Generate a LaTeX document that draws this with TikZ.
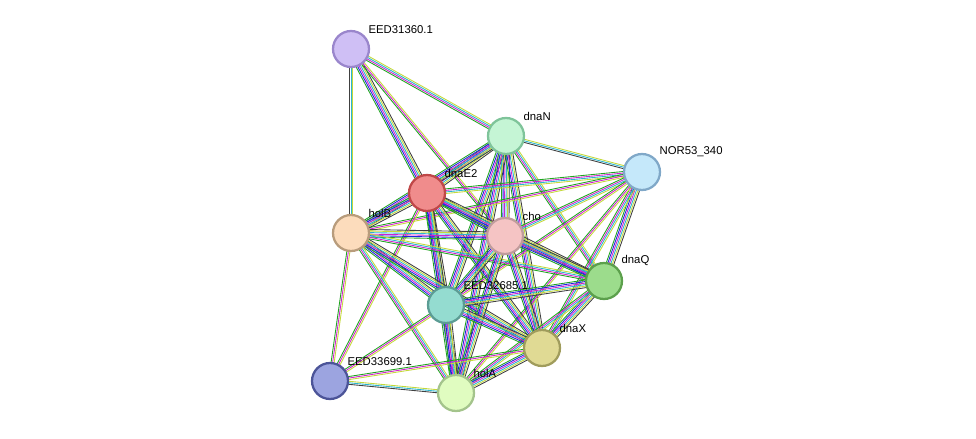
\documentclass[tikz,border=0pt]{standalone}
\usepackage{fontspec}
\setmainfont{Liberation Sans}
\usetikzlibrary{calc}
\definecolor{ctxt}{HTML}{C4D93A}
\definecolor{cknw}{HTML}{1FA31F}
\definecolor{cdbs}{HTML}{2AB5CF}
\definecolor{cexp}{HTML}{D020D0}
\definecolor{cblu}{HTML}{2020E0}
\definecolor{cblk}{HTML}{404040}
\newcommand\edg[4]{%
 \foreach[count=\i] \c in #3 {%
  \pgfmathsetmacro\off{(\i-(#4+1)/2)*1.15}%
  \draw[color=\c,line width=0.65pt] ($(#1)!\off pt!90:(#2)$) -- ($(#2)!\off pt!-90:(#1)$);}}
\def\efull{cknw,cblu,cexp,cdbs,ctxt,cblk}
\def\emid{cknw,cexp,cdbs,ctxt}
\def\eweak{cknw,cexp,ctxt}
\def\etx{cblk,cdbs,ctxt}
\begin{document}
\begin{tikzpicture}[x=0.75pt,y=-0.75pt,
 nd/.style={circle,minimum size=36*0.75pt,line width=1.7pt,inner sep=0pt},
 lb/.style={font=\fontsize{8.5}{10}\selectfont,anchor=south west,inner sep=1pt}]
\useasboundingbox (0,0) rectangle (976,439);
\coordinate (EED31360) at (351,49);
\coordinate (dnaN) at (506,136);
\coordinate (NOR) at (642,172);
\coordinate (dnaE2) at (427,193);
\coordinate (holB) at (351,233);
\coordinate (cho) at (505,236);
\coordinate (dnaQ) at (604,281);
\coordinate (EED32685) at (446,305);
\coordinate (dnaX) at (542,348);
\coordinate (EED33699) at (330,381);
\coordinate (holA) at (456,393);
\edg{EED31360}{holB}{\etx}{3}
\edg{EED31360}{dnaN}{\emid}{4}
\edg{EED31360}{dnaE2}{\efull}{6}
\edg{EED31360}{cho}{\eweak}{3}
\edg{dnaN}{dnaE2}{\efull}{6}
\edg{dnaN}{holB}{\efull}{6}
\edg{dnaN}{cho}{\efull}{6}
\edg{dnaN}{EED32685}{\efull}{6}
\edg{dnaN}{dnaX}{\efull}{6}
\edg{dnaN}{dnaQ}{\emid}{4}
\edg{dnaN}{holA}{\efull}{6}
\edg{dnaN}{NOR}{\etx}{3}
\edg{NOR}{dnaE2}{\emid}{4}
\edg{NOR}{holB}{\eweak}{3}
\edg{NOR}{cho}{\emid}{4}
\edg{NOR}{dnaQ}{\efull}{6}
\edg{NOR}{dnaX}{\emid}{4}
\edg{NOR}{EED32685}{\eweak}{3}
\edg{NOR}{holA}{\eweak}{3}
\edg{dnaE2}{holB}{\efull}{6}
\edg{dnaE2}{cho}{\efull}{6}
\edg{dnaE2}{EED32685}{\efull}{6}
\edg{dnaE2}{dnaX}{\efull}{6}
\edg{dnaE2}{dnaQ}{\efull}{6}
\edg{dnaE2}{holA}{\efull}{6}
\edg{dnaE2}{EED33699}{\eweak}{3}
\edg{holB}{cho}{\efull}{6}
\edg{holB}{EED32685}{\efull}{6}
\edg{holB}{dnaX}{\efull}{6}
\edg{holB}{dnaQ}{\emid}{4}
\edg{holB}{holA}{\emid}{4}
\edg{holB}{EED33699}{\eweak}{3}
\edg{cho}{EED32685}{\efull}{6}
\edg{cho}{dnaX}{\efull}{6}
\edg{cho}{dnaQ}{\efull}{6}
\edg{cho}{holA}{\efull}{6}
\edg{dnaQ}{EED32685}{\efull}{6}
\edg{dnaQ}{dnaX}{\efull}{6}
\edg{dnaQ}{holA}{\emid}{4}
\edg{EED32685}{dnaX}{\efull}{6}
\edg{EED32685}{holA}{\efull}{6}
\edg{EED32685}{EED33699}{\eweak}{3}
\edg{dnaX}{holA}{\efull}{6}
\edg{dnaX}{EED33699}{\eweak}{3}
\edg{EED33699}{holA}{\etx}{3}
\node[nd,fill={rgb,255:red,207;green,191;blue,245},draw={rgb,255:red,154;green,134;blue,204}] (n1) at (EED31360) {};
\node[nd,fill={rgb,255:red,197;green,245;blue,213},draw={rgb,255:red,127;green,196;blue,154}] (n2) at (dnaN) {};
\node[nd,fill={rgb,255:red,197;green,232;blue,250},draw={rgb,255:red,128;green,168;blue,200}] (n3) at (NOR) {};
\node[nd,fill={rgb,255:red,240;green,140;blue,140},draw={rgb,255:red,192;green,72;blue,72}] (n4) at (dnaE2) {};
\node[nd,fill={rgb,255:red,252;green,220;blue,188},draw={rgb,255:red,184;green,156;blue,124}] (n5) at (holB) {};
\node[nd,fill={rgb,255:red,245;green,196;blue,196},draw={rgb,255:red,192;green,156;blue,156}] (n6) at (cho) {};
\node[nd,fill={rgb,255:red,156;green,220;blue,140},draw={rgb,255:red,92;green,160;blue,76}] (n7) at (dnaQ) {};
\node[nd,fill={rgb,255:red,148;green,220;blue,208},draw={rgb,255:red,92;green,156;blue,148}] (n8) at (EED32685) {};
\node[nd,fill={rgb,255:red,224;green,218;blue,148},draw={rgb,255:red,160;green,156;blue,92}] (n9) at (dnaX) {};
\node[nd,fill={rgb,255:red,156;green,164;blue,224},draw={rgb,255:red,76;green,84;blue,152}] (n10) at (EED33699) {};
\node[nd,fill={rgb,255:red,224;green,252;blue,192},draw={rgb,255:red,164;green,196;blue,140}] (n11) at (holA) {};
\node[lb] (l1) at (367,35) {EED31360.1};
\node[lb] (l2) at (522,122) {dnaN};
\node[lb] (l3) at (658,158) {NOR53\_340};
\node[lb] (l4) at (443,179) {dnaE2};
\node[lb] (l5) at (367,219) {holB};
\node[lb] (l6) at (521,222) {cho};
\node[lb] (l7) at (620,267) {dnaQ};
\node[lb] (l8) at (462,291) {EED32685.1};
\node[lb] (l9) at (558,334) {dnaX};
\node[lb] (l10) at (346,367) {EED33699.1};
\node[lb] (l11) at (472,379) {holA};
\end{tikzpicture}
\end{document}
